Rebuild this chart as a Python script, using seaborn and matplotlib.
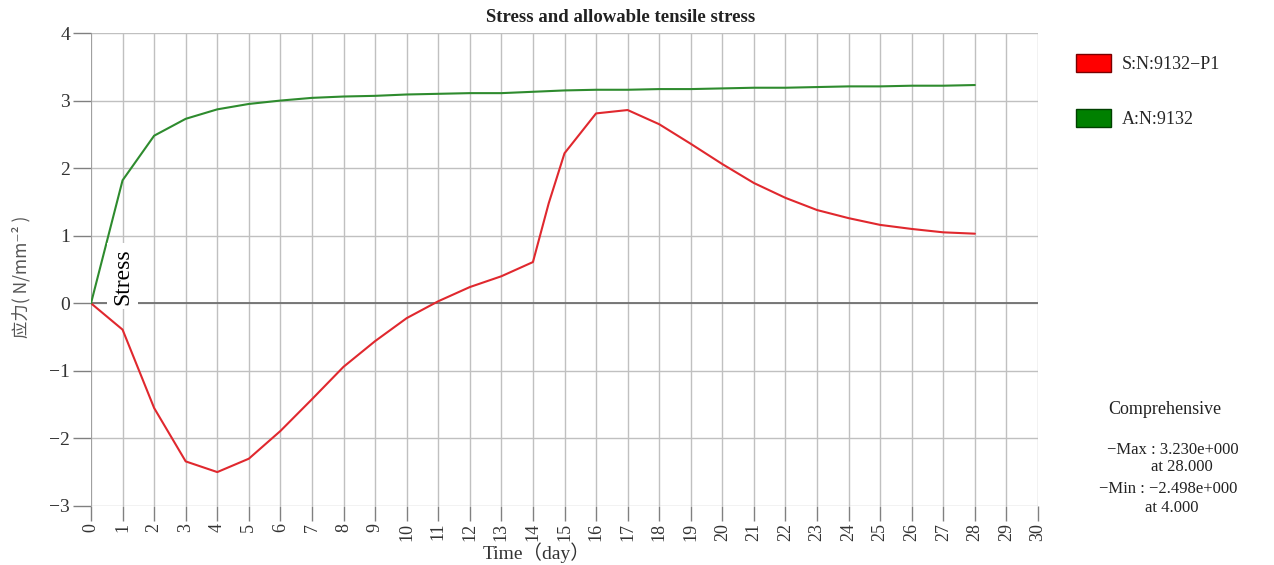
import numpy as np
import pandas as pd
import matplotlib
matplotlib.use("Agg")
import matplotlib.pyplot as plt
from matplotlib.patches import Patch
import seaborn as sns

# ---- data ----
days_stress = [0, 1, 2, 3, 4, 5, 6, 7, 8, 9, 10, 11, 12, 13, 14, 14.5, 15, 16, 17, 18,
               19, 20, 21, 22, 23, 24, 25, 26, 27, 28]
stress = [0.0, -0.39, -1.55, -2.34, -2.498, -2.30, -1.89, -1.42, -0.94, -0.56, -0.22, 0.03,
          0.24, 0.40, 0.61, 1.48, 2.22, 2.81, 2.86, 2.65, 2.36, 2.06, 1.78, 1.56, 1.38,
          1.26, 1.16, 1.10, 1.05, 1.03]
days_allow = list(range(0, 29))
allowable = [0.0, 1.82, 2.48, 2.73, 2.87, 2.95, 3.00, 3.04, 3.06, 3.07, 3.09, 3.10, 3.11,
             3.11, 3.13, 3.15, 3.16, 3.16, 3.17, 3.17, 3.18, 3.19, 3.19, 3.20, 3.21, 3.21,
             3.22, 3.22, 3.23]
series_names = ["S:N:9132\u2212P1", "A:N:9132"]
x_ticks = list(range(0, 31))
y_ticks = [-3, -2, -1, 0, 1, 2, 3, 4]

df = pd.concat([
    pd.DataFrame({"day": days_stress, "value": stress, "series": series_names[0]}),
    pd.DataFrame({"day": days_allow, "value": allowable, "series": series_names[1]}),
])

sns.set_style("white")
plt.rcParams["font.family"] = ["Liberation Serif", "Noto Sans CJK SC", "DejaVu Sans"]

fig = plt.figure(figsize=(12.74, 5.65), dpi=100)
ax = fig.add_axes([91 / 1274, 1 - 506 / 565, (1038 - 91) / 1274, (506 - 33) / 565])

line_colors = {series_names[0]: "#e0282e", series_names[1]: "#2e8b2e"}
sns.lineplot(data=df, x="day", y="value", hue="series", palette=line_colors,
             ax=ax, linewidth=1.5, legend=False, zorder=3)

ax.set_xlim(0, 30)
ax.set_ylim(-3, 4)
ax.set_xticks(x_ticks)
ax.set_yticks(y_ticks)
ax.set_xticklabels([str(t) for t in x_ticks], rotation=90, fontsize=13)
ax.set_yticklabels(["\u2212" + str(abs(t)) if t < 0 else str(t) for t in y_ticks], fontsize=14)
ax.grid(True, color="#c0c0c0", linewidth=1.0)
ax.axhline(0, color="#707070", linewidth=1.3, zorder=2)
for s in ax.spines.values():
    s.set_visible(False)
ax.axvline(0, color="#9a9a9a", linewidth=1.2, zorder=2)
ax.tick_params(axis="y", left=True, length=13, width=1, color="#808080",
               pad=2, labelcolor="#333333")
ax.tick_params(axis="x", bottom=True, length=11, width=1, color="#808080",
               pad=1, labelcolor="#333333")

ax.set_title("Stress and allowable tensile stress", fontsize=13.5, fontweight="bold",
             color="#222222", pad=8, x=0.559)
ax.set_xlabel("Time\uff08day\uff09", fontsize=14, color="#333333")
ax.xaxis.set_label_coords(0.47, -0.076)
ax.set_ylabel("应力( N/mm\u207b\u00b2 )", fontsize=12.5, color="#555555",
              family=["Noto Sans CJK SC", "DejaVu Sans"])
ax.yaxis.set_label_coords(-0.064, 0.485)

ax.text(1.0, 0.40, "Stress", rotation=90, ha="center", va="center", fontsize=17,
        color="black", zorder=5,
        bbox=dict(boxstyle="square,pad=0.2", facecolor="white", edgecolor="none"))

handles = [Patch(facecolor="#ff0000", edgecolor="#7a0000", label=series_names[0]),
           Patch(facecolor="#008000", edgecolor="#004000", label=series_names[1])]
fig.legend(handles=handles, loc="upper left", bbox_to_anchor=(1060 / 1274, 1 - 38 / 565),
           frameon=False, fontsize=13, labelspacing=2.0, handlelength=1.9,
           handleheight=1.1, handletextpad=0.6)

fig.text(1165 / 1274, 1 - 410 / 565, "Comprehensive", ha="center", va="center",
         fontsize=13, color="#222222")
fig.text(1173 / 1274, 1 - 450 / 565, "\u2212Max : 3.230e+000", ha="center", va="center",
         fontsize=12, color="#222222")
fig.text(1182 / 1274, 1 - 467 / 565, "at 28.000", ha="center", va="center",
         fontsize=12, color="#222222")
fig.text(1168 / 1274, 1 - 489 / 565, "\u2212Min : \u22122.498e+000", ha="center", va="center",
         fontsize=12, color="#222222")
fig.text(1172 / 1274, 1 - 508 / 565, "at 4.000", ha="center", va="center",
         fontsize=12, color="#222222")

fig.savefig("out.png", dpi=100)
